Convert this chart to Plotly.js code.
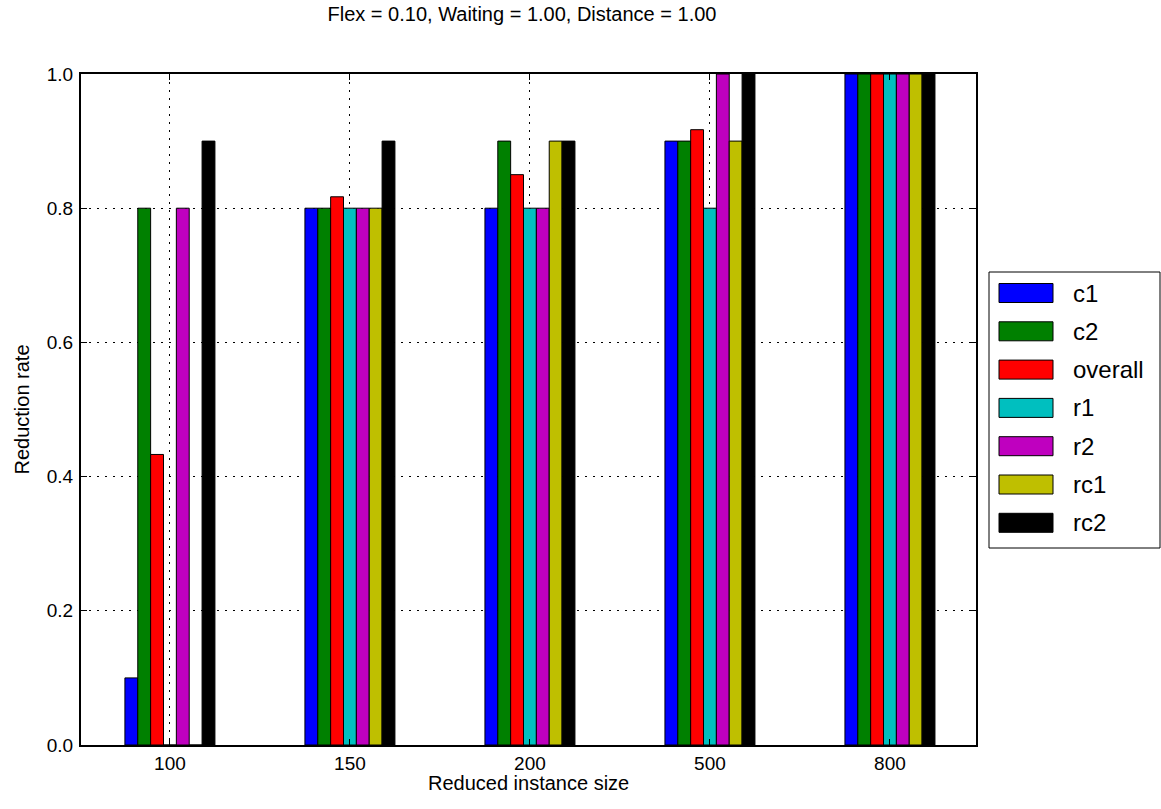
<!DOCTYPE html>
<html>
<head>
<meta charset="utf-8">
<script src="https://cdn.plot.ly/plotly-3.0.1.min.js"></script>
<style>html,body{margin:0;padding:0;background:#fff;}#chart{width:1161px;height:809px;}</style>
</head>
<body>
<div id="chart"></div>
<script>
const categories = ["100", "150", "200", "500", "800"];
const seriesNames = ["c1", "c2", "overall", "r1", "r2", "rc1", "rc2"];
const c1 = [0.1, 0.8, 0.8, 0.9, 1.0];
const c2 = [0.8, 0.8, 0.9, 0.9, 1.0];
const overall = [0.433, 0.817, 0.85, 0.917, 1.0];
const r1 = [0.0, 0.8, 0.8, 0.8, 1.0];
const r2 = [0.8, 0.8, 0.8, 1.0, 1.0];
const rc1 = [0.0, 0.8, 0.9, 0.9, 1.0];
const rc2 = [0.9, 0.9, 0.9, 1.0, 1.0];
const yTicks = [0.0, 0.2, 0.4, 0.6, 0.8, 1.0];

const seriesValues = [c1, c2, overall, r1, r2, rc1, rc2];
const colors = ["#0000ff", "#008000", "#ff0000", "#00bfbf", "#bf00bf", "#bfbf00", "#000000"];
const xPos = categories.map((c, i) => i);

const traces = seriesNames.map((name, k) => ({
  type: "bar",
  name: name,
  x: xPos,
  y: seriesValues[k],
  marker: {color: colors[k], line: {color: "#000", width: 1}},
  showlegend: false,
  hoverinfo: "x+y+name"
}));

// plot area in pixels
const L = 81, R = 976, T = 74, B = 745;
const W = 1161, H = 809;
const px = x => (x - L) / (R - L);
const py = y => (B - y) / (B - T);
const FONT = "Liberation Sans, Arial, Helvetica, sans-serif";

const shapes = [];
const annotations = [];
// legend box
shapes.push({type: "rect", xref: "paper", yref: "paper",
  x0: px(989), x1: px(1160), y0: py(548), y1: py(272),
  line: {color: "#000", width: 1}, fillcolor: "#fff"});
seriesNames.forEach((name, k) => {
  const cy = 293 + k * 38.3;
  shapes.push({type: "rect", xref: "paper", yref: "paper",
    x0: px(999), x1: px(1053), y0: py(cy + 9.5), y1: py(cy - 9.5),
    line: {color: "#000", width: 1}, fillcolor: colors[k]});
  annotations.push({xref: "paper", yref: "paper", x: px(1071), y: py(cy),
    xanchor: "left", yanchor: "middle", text: name, showarrow: false,
    font: {family: FONT, size: 24, color: "#000"}});
});
// x axis title
annotations.push({xref: "paper", yref: "paper", x: px(528.5), y: py(783),
  xanchor: "center", yanchor: "middle", text: "Reduced instance size", showarrow: false,
  font: {family: FONT, size: 20, color: "#000"}});

const layout = {
  width: W, height: H,
  margin: {l: L, r: W - R, t: T, b: H - B, pad: 0},
  paper_bgcolor: "#fff", plot_bgcolor: "#fff",
  font: {family: FONT, size: 19, color: "#000"},
  title: {text: "Flex = 0.10, Waiting = 1.00, Distance = 1.00",
    x: px(522), xref: "paper", xanchor: "center", y: 1 - 14 / H, yanchor: "middle",
    font: {size: 20, color: "#000"}},
  barmode: "group", bargap: 0.5, bargroupgap: 0,
  xaxis: {
    range: [-0.494, 4.478],
    tickvals: xPos, ticktext: categories,
    showline: true, linecolor: "#000", linewidth: 2, mirror: "allticks",
    ticks: "inside", ticklen: 6, tickwidth: 1, tickcolor: "#000",
    showgrid: true, gridcolor: "#000", gridwidth: 1, griddash: "2px,6px",
    zeroline: false, layer: "above traces",
    tickfont: {size: 19}
  },
  yaxis: {
    range: [0, 1], tickvals: yTicks, ticktext: yTicks.map(v => v.toFixed(1)),
    showline: true, linecolor: "#000", linewidth: 2, mirror: "allticks",
    ticks: "inside", ticklen: 6, tickwidth: 1, tickcolor: "#000",
    showgrid: true, gridcolor: "#000", gridwidth: 1, griddash: "2px,6px",
    zeroline: false, layer: "above traces",
    tickfont: {size: 19}, ticklabelstandoff: 2,
    title: {text: "Reduction rate", font: {size: 20}, standoff: 12}
  },
  shapes: shapes,
  annotations: annotations
};

Plotly.newPlot("chart", traces, layout, {displayModeBar: false, staticPlot: true});
</script>
</body>
</html>
